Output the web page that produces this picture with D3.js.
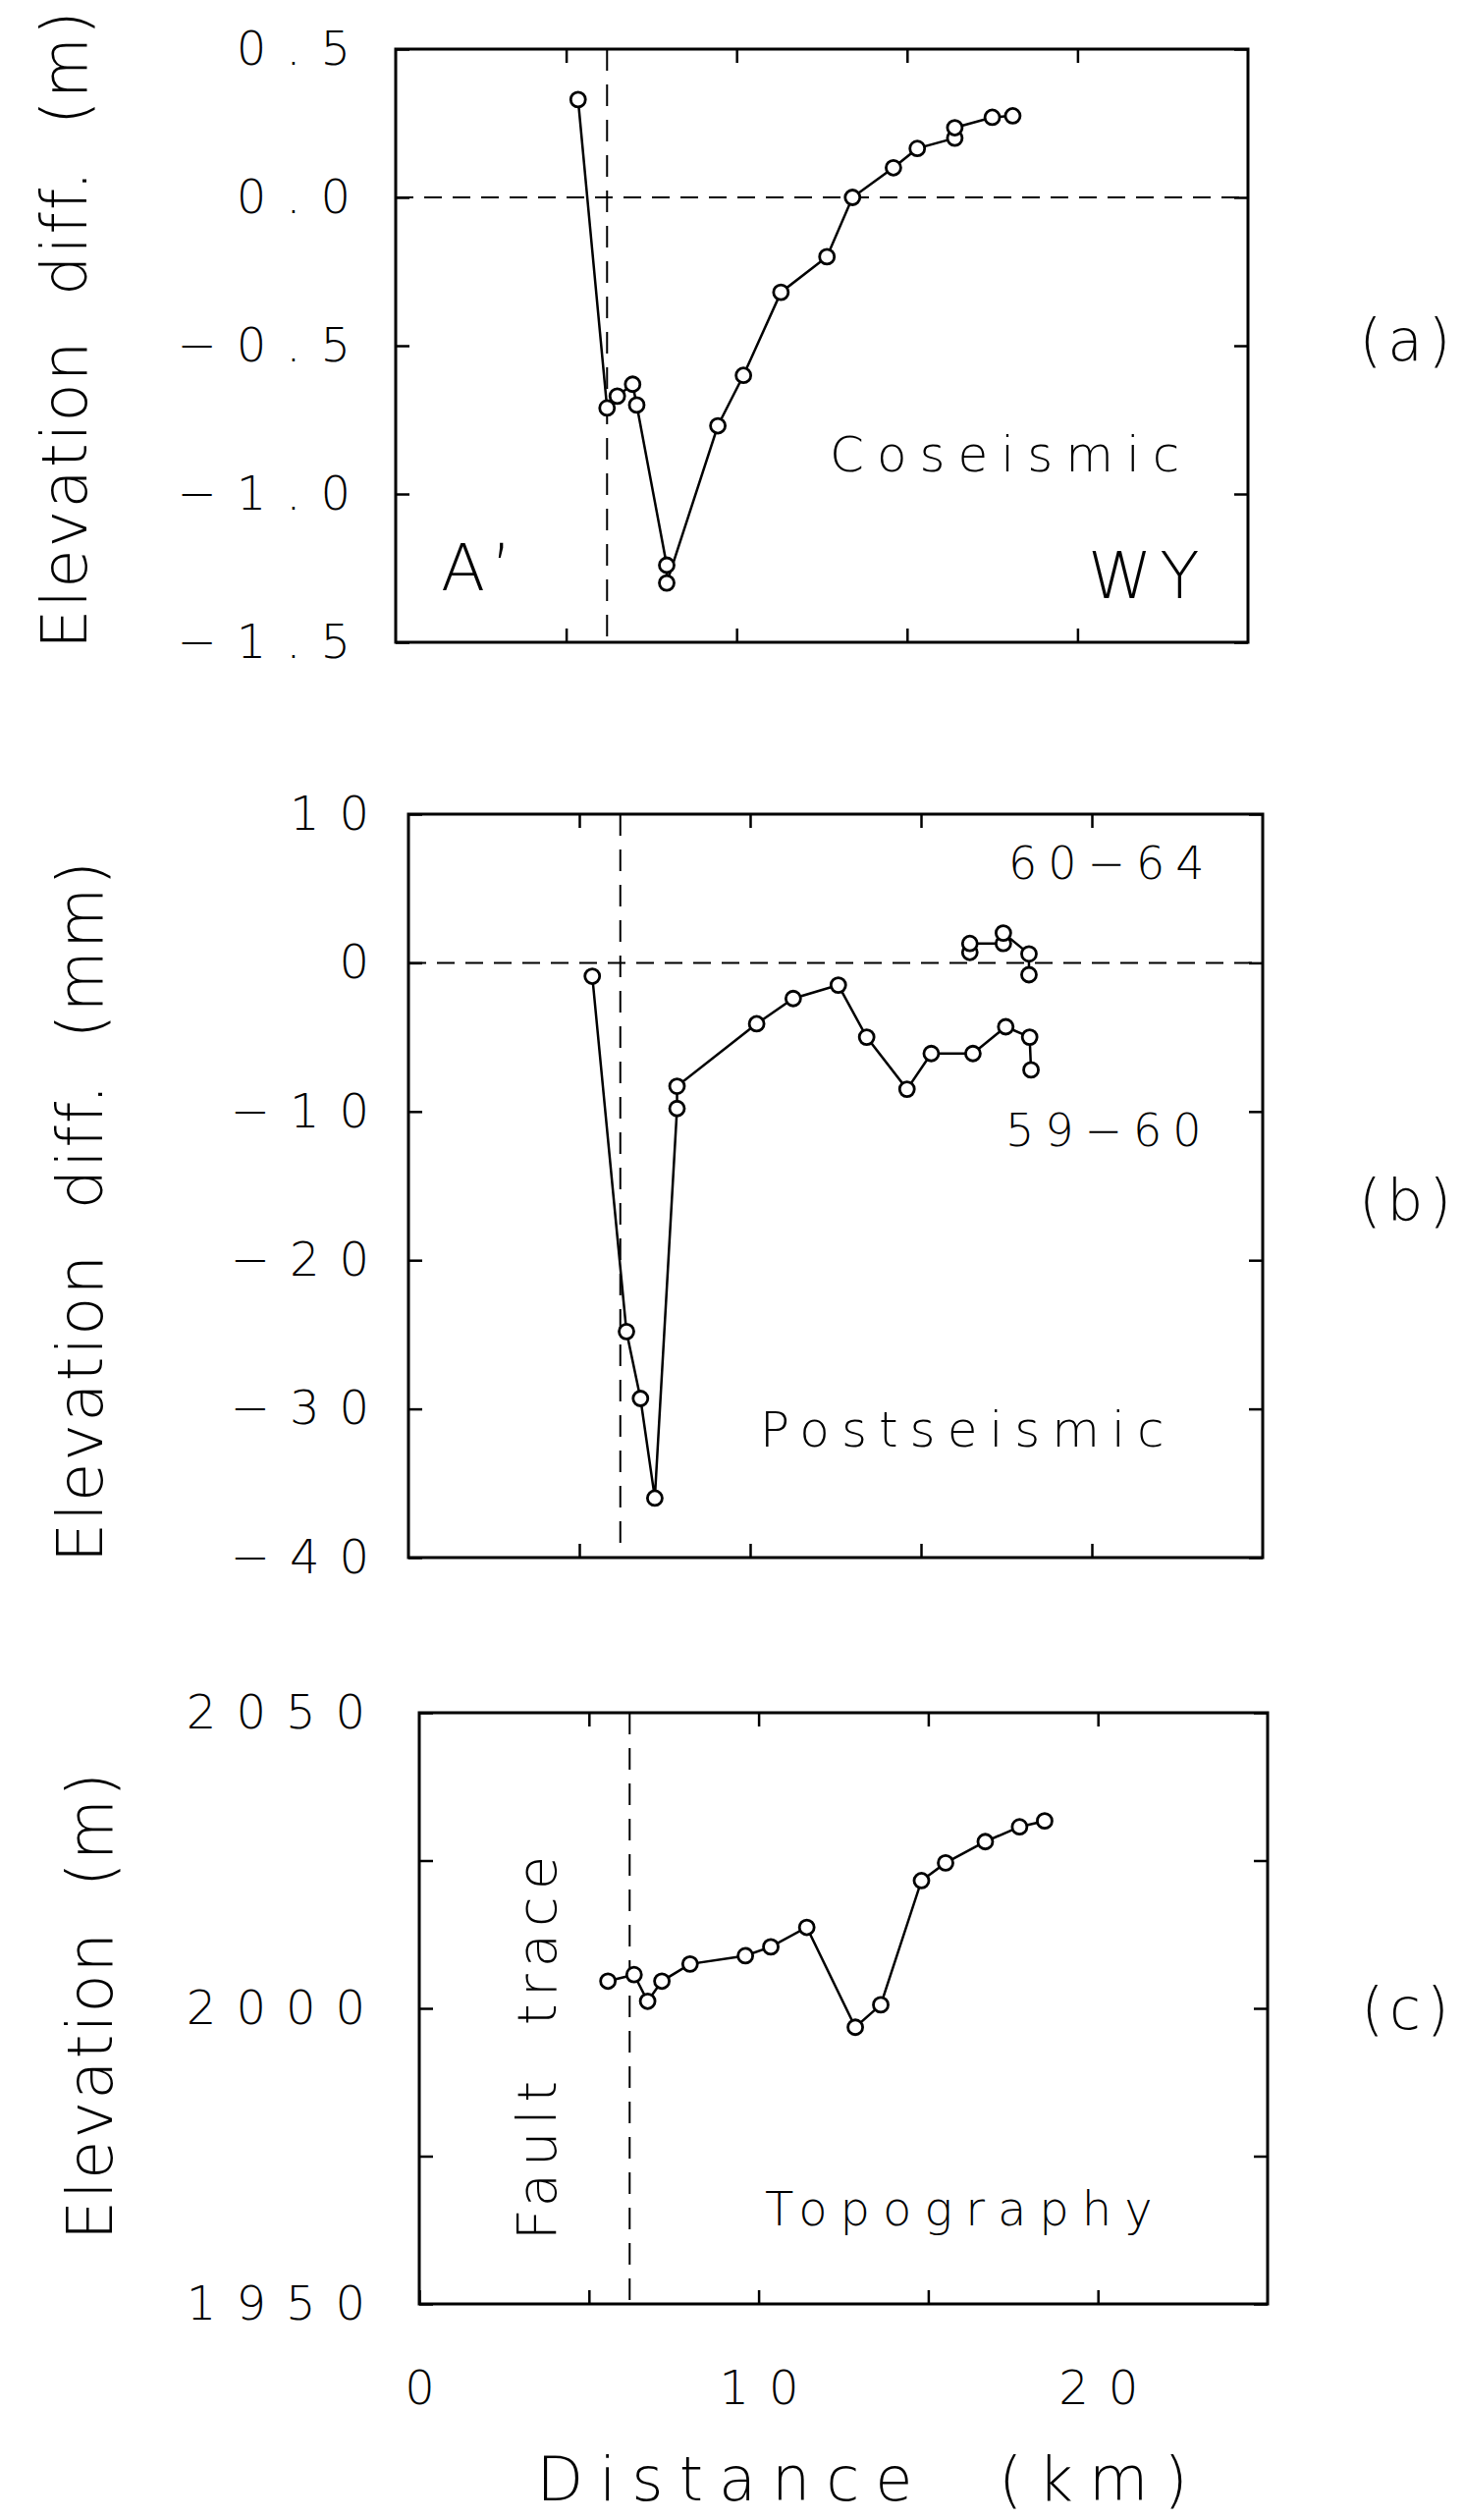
<!DOCTYPE html>
<meta charset="utf-8">
<script src="https://d3js.org/d3.v7.min.js"></script>
<style>
  body { margin: 0; background: #fff; }
  text { font-family: "DejaVu Sans", sans-serif; font-weight: 200; fill: #000; }
</style>
<body>
<script>
// Values. Distance along the profile in km.
var xTicks = [5, 10, 15, 20];
var xLabels = [0, 10, 20];
var faultKm = 6.2;

// (a) coseismic elevation change, m
var coseismicKm  = [5.35, 6.2, 6.5, 6.95, 7.07, 7.95, 7.95, 9.45, 10.2, 11.3, 12.65, 13.4, 14.6, 15.3, 16.4, 16.4, 17.5, 18.1];
var coseismicVal = [0.33, -0.71, -0.67, -0.63, -0.70, -1.24, -1.30, -0.77, -0.60, -0.32, -0.20, 0.0, 0.10, 0.165, 0.20, 0.235, 0.27, 0.275];
var coseismicTicks = [0.5, 0, -0.5, -1, -1.5];

// (b) postseismic, mm
var post5960Km  = [5.38, 6.38, 6.79, 7.21, 7.86, 7.86, 10.19, 11.26, 12.58, 13.41, 14.59, 15.3, 16.52, 17.48, 18.18, 18.22];
var post5960Val = [-0.9, -24.8, -29.3, -36.0, -9.8, -8.3, -4.1, -2.4, -1.5, -5.0, -8.5, -6.1, -6.1, -4.3, -5.0, -7.2];
var post6064Km  = [16.43, 16.43, 17.41, 17.41, 18.16, 18.16];
var post6064Val = [0.7, 1.3, 1.3, 2.0, 0.6, -0.8];
var postTicks = [10, 0, -10, -20, -30, -40];

// (c) topography, m
var topoKm  = [5.56, 6.33, 6.73, 7.15, 7.98, 9.61, 10.36, 11.42, 12.85, 13.6, 14.8, 15.51, 16.68, 17.69, 18.43];
var topoVal = [2004.6, 2005.7, 2001.2, 2004.6, 2007.5, 2008.9, 2010.4, 2013.7, 1996.8, 2000.6, 2021.6, 2024.6, 2028.2, 2030.7, 2031.7];
var topoTicks = [2050, 2025, 2000, 1975, 1950];
var topoLabels = [2050, 2000, 1950];

var width = 1490, height = 2566;

var svg = d3.select("body")
    .append("svg")
    .attr("width", width)
    .attr("height", height);

svg.append("rect").attr("width", width).attr("height", height).attr("fill", "#fff");

function styleLabels(g, size, spacing) {
    g.selectAll("text")
        .style("font-size", size + "px")
        .style("letter-spacing", spacing + "px");
}

function drawPanel(p) {
    var x = d3.scaleLinear().domain([0, 25]).range([p.left, p.right]);
    var y = d3.scaleLinear().domain(p.yDomain).range([p.bottom, p.top]);

    // left axis with labels, ticks point inward
    var gl = svg.append("g")
        .attr("transform", "translate(" + p.left + ",0)")
        .call(d3.axisLeft(y).tickValues(p.yTicks).tickSizeInner(-14).tickSizeOuter(0)
            .tickPadding(p.labelPad).tickFormat(p.fmt));
    gl.select(".domain").remove();
    gl.selectAll("line").attr("stroke-width", 2.5);
    styleLabels(gl, 48, 20);

    var gr = svg.append("g")
        .attr("transform", "translate(" + p.right + ",0)")
        .call(d3.axisRight(y).tickValues(p.yTicks).tickSizeInner(-14).tickSizeOuter(0).tickFormat(""));
    gr.select(".domain").remove();
    gr.selectAll("line").attr("stroke-width", 2.5);

    var gt = svg.append("g")
        .attr("transform", "translate(0," + p.top + ")")
        .call(d3.axisTop(x).tickValues(xTicks).tickSizeInner(-14).tickSizeOuter(0).tickFormat(""));
    gt.select(".domain").remove();
    gt.selectAll("line").attr("stroke-width", 2.5);

    var gb = svg.append("g")
        .attr("transform", "translate(0," + p.bottom + ")")
        .call(d3.axisBottom(x).tickValues(p.xLabelled ? [0].concat(xTicks) : xTicks)
            .tickSizeInner(-14).tickSizeOuter(0).tickPadding(68)
            .tickFormat(function(d) { return p.xLabelled && xLabels.indexOf(d) >= 0 ? d : ""; }));
    gb.select(".domain").remove();
    gb.selectAll("line").attr("stroke-width", 2.5);
    styleLabels(gb, 48, 20);
    gb.selectAll("text").attr("dx", 10);

    // frame
    svg.append("rect")
        .attr("x", p.left).attr("y", p.top)
        .attr("width", p.right - p.left).attr("height", p.bottom - p.top)
        .attr("fill", "none").attr("stroke", "#000").attr("stroke-width", 3);

    // zero line
    if (p.zero) {
        svg.append("line")
            .attr("x1", p.left).attr("x2", p.right)
            .attr("y1", y(0)).attr("y2", y(0))
            .attr("stroke", "#000").attr("stroke-width", 2)
            .attr("stroke-dasharray", "18,11");
    }

    // fault trace
    svg.append("line")
        .attr("x1", x(faultKm)).attr("x2", x(faultKm))
        .attr("y1", p.top).attr("y2", p.bottom)
        .attr("stroke", "#000").attr("stroke-width", 2)
        .attr("stroke-dasharray", "22,14");

    var line = d3.line()
        .x(function(d) { return x(d[0]); })
        .y(function(d) { return y(d[1]); });

    p.series.forEach(function(s) {
        var pts = d3.zip(s[0], s[1]);
        svg.append("path")
            .datum(pts)
            .attr("d", line)
            .attr("fill", "none").attr("stroke", "#000").attr("stroke-width", 2.5);
        svg.selectAll(null)
            .data(pts)
            .enter()
            .append("circle")
            .attr("cx", function(d) { return x(d[0]); })
            .attr("cy", function(d) { return y(d[1]); })
            .attr("r", 7.5)
            .attr("fill", "#fff").attr("stroke", "#000").attr("stroke-width", 2.8);
    });

    // y title, rotated
    svg.append("text")
        .attr("transform", "translate(" + p.titleX + "," + p.titleY + ") rotate(-90)")
        .attr("text-anchor", "middle")
        .style("font-size", "64px")
        .style("letter-spacing", "2px")
        .style("white-space", "pre")
        .text(p.title);

    // panel letter
    svg.append("text")
        .attr("x", 1434).attr("y", p.letterY)
        .attr("text-anchor", "middle")
        .style("font-size", "58px")
        .style("letter-spacing", "6px")
        .text(p.letter);

    return { x: x, y: y };
}

function label(txt, x, y, size, spacing) {
    return svg.append("text")
        .attr("x", x).attr("y", y)
        .style("font-size", size + "px")
        .style("letter-spacing", spacing + "px")
        .style("white-space", "pre")
        .text(txt);
}

// (a)
drawPanel({
    left: 403, right: 1271, top: 50, bottom: 654,
    yDomain: [-1.5, 0.5], yTicks: coseismicTicks, fmt: d3.format(".1f"), labelPad: 26,
    zero: true, series: [[coseismicKm, coseismicVal]],
    title: "Elevation  diff.  (m)", titleX: 88, titleY: 335,
    letter: "(a)", letterY: 367
});
label("Coseismic", 845, 480, 50, 13);
label("A\u2019", 449, 601, 66, 6);
label("WY", 1108, 609, 66, 8);

// (b)
drawPanel({
    left: 416, right: 1286, top: 829, bottom: 1586,
    yDomain: [-40, 10], yTicks: postTicks, fmt: d3.format("d"), labelPad: 20,
    zero: true, series: [[post5960Km, post5960Val], [post6064Km, post6064Val]],
    title: "Elevation  diff.  (mm)", titleX: 104, titleY: 1233,
    letter: "(b)", letterY: 1243
});
label("60\u221264", 1027, 895, 46, 11);
label("59\u221260", 1024, 1167, 46, 11);
label("Postseismic", 774, 1473, 50, 12);

// (c)
drawPanel({
    left: 427, right: 1291, top: 1744, bottom: 2346,
    yDomain: [1950, 2050], yTicks: topoTicks,
    fmt: function(d) { return topoLabels.indexOf(d) >= 0 ? d : ""; }, labelPad: 35,
    zero: false, series: [[topoKm, topoVal]], xLabelled: true,
    title: "Elevation  (m)", titleX: 114, titleY: 2042,
    letter: "(c)", letterY: 2066
});
label("Topography", 779, 2266, 48, 13);
svg.append("text")
    .attr("transform", "translate(566,2082) rotate(-90)")
    .attr("text-anchor", "middle")
    .style("font-size", "56px")
    .style("letter-spacing", "7px")
    .style("white-space", "pre")
    .text("Fault  trace");

// x title
svg.append("text")
    .attr("x", 886).attr("y", 2546)
    .attr("text-anchor", "middle")
    .style("font-size", "62px")
    .style("letter-spacing", "16px")
    .style("white-space", "pre")
    .text("Distance  (km)");
</script>
</body>
